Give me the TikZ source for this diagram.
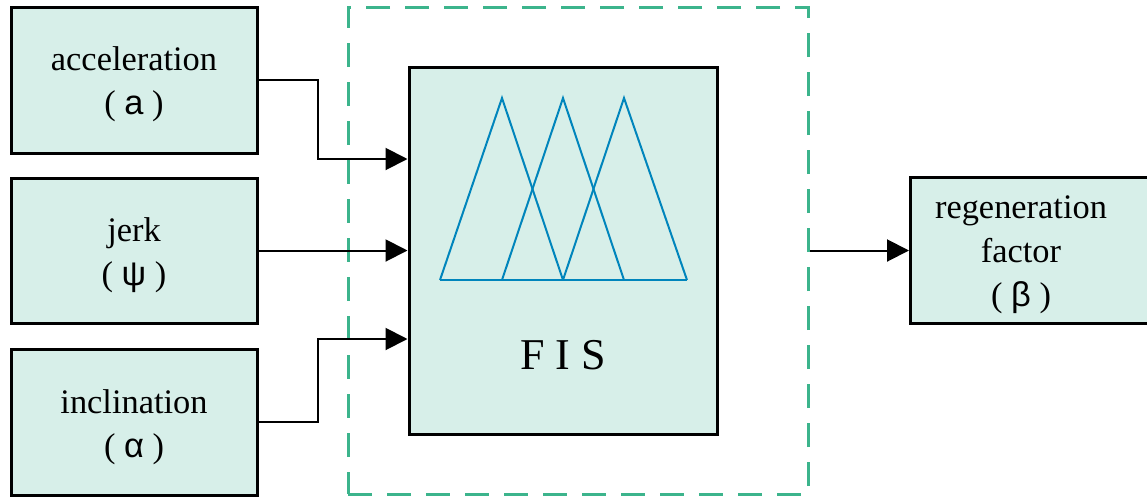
\documentclass[tikz,border=0pt]{standalone}
\usepackage{fontspec}
\setmainfont{Liberation Serif}
\newfontfamily\symf{Liberation Sans}
\usetikzlibrary{arrows.meta,calc}
\definecolor{boxfill}{RGB}{215,239,233}
\definecolor{dashgreen}{RGB}{60,180,140}
\definecolor{mfblue}{RGB}{0,133,188}
\tikzset{
  inbox/.style={draw=black,line width=1.5pt,fill=boxfill,rectangle,inner sep=0pt},
  lbl/.style={align=center,font=\fontsize{17.2pt}{22pt}\selectfont,inner sep=0pt},
  arr/.style={line width=1pt,-{Triangle[length=11pt,width=11pt]}},
  grp/.style={draw=dashgreen,line width=1.5pt,dash pattern=on 12pt off 7.5pt,rectangle,inner sep=0pt},
  mf/.style={draw=mfblue,line width=1pt,line join=miter}
}
\newcommand{\symlbl}[1]{( {\symf #1} )}
\begin{document}
\begin{tikzpicture}[x=0.5pt,y=-0.5pt]
\useasboundingbox (0,0) rectangle (1147,499);
% dashed group
\node[grp,minimum width=230pt,minimum height=243.5pt] (grp) at (578,250.5) {};
% input boxes
\node[inbox,minimum width=123pt,minimum height=73pt] (acc) at (134,80) {};
\node[inbox,minimum width=123pt,minimum height=72.5pt] (jerk) at (134,250.5) {};
\node[inbox,minimum width=123pt,minimum height=73pt] (inc) at (134,422) {};
\node[lbl] (accl) at (134,84) {acceleration\\\symlbl{a}};
\node[lbl] (jerkl) at (134,255) {jerk\\\symlbl{ψ}};
\node[lbl] (incl) at (134,427) {inclination\\\symlbl{α}};
% FIS
\node[inbox,minimum width=154pt,minimum height=183.5pt] (fis) at (563,250.5) {};
\draw[mf] (440,280) -- (687,280);
\draw[mf] (440,280) -- (502,98) -- (563,280);
\draw[mf] (502,280) -- (563,98) -- (624,280);
\draw[mf] (563,280) -- (624,98) -- (687,280);
\node[inner sep=0pt,font=\fontsize{22pt}{26pt}\selectfont] (fisl) at (563,355) {F I S};
% output
\node[inbox,minimum width=120pt,minimum height=73pt] (reg) at (1030.5,250.5) {};
\node[lbl] (regl) at (1021,255) {regeneration\\factor\\\symlbl{β}};
% connectors
\draw[arr] (acc.east) -- (318,80) -- (318,159) -- (fis.west |- 0,159);
\draw[arr] (jerk.east) -- (fis.west);
\draw[arr] (inc.east) -- (318,422) -- (318,339) -- (fis.west |- 0,339);
\draw[arr] (grp.east) -- (reg.west);
\end{tikzpicture}
\end{document}
